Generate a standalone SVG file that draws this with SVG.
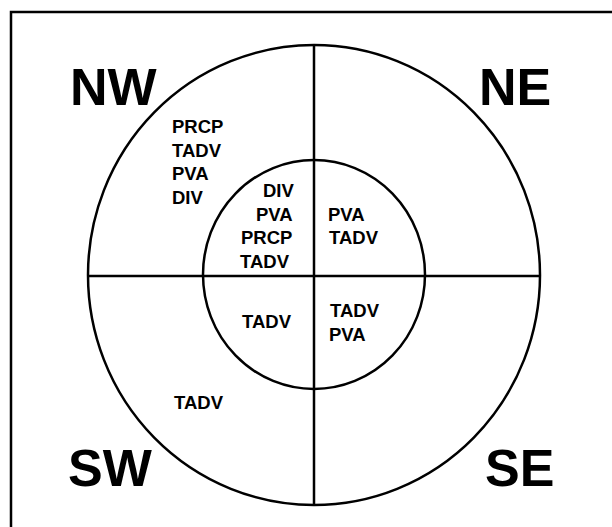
<svg xmlns="http://www.w3.org/2000/svg" width="612" height="527" viewBox="0 0 612 527">
<style>
.ln{fill:none;stroke:#000;stroke-width:2.5}
.big{font-family:"Liberation Sans",Arial,sans-serif;font-weight:bold;font-size:52px;fill:#000}
.sm{font-family:"Liberation Sans",Arial,sans-serif;font-weight:bold;font-size:18.5px;fill:#000}
</style>
<rect width="612" height="527" fill="#fff"/>
<path class="ln" d="M11,527 V12 H612" stroke-width="3"/>
<g id="connectors">
<ellipse class="ln" cx="314" cy="275" rx="226" ry="230"/>
<ellipse class="ln" cx="314" cy="274.5" rx="111" ry="114.5"/>
<line class="ln" x1="314" y1="45" x2="314" y2="505" stroke-width="2"/>
<line class="ln" x1="88" y1="276" x2="540" y2="276" stroke-width="2"/>
</g>
<g id="label-NW"><text class="big" x="70" y="105">NW</text></g>
<g id="label-NE"><text class="big" x="479" y="105">NE</text></g>
<g id="label-SW"><text class="big" x="68" y="486">SW</text></g>
<g id="label-SE"><text class="big" x="485" y="486">SE</text></g>
<g id="outer-NW">
<text class="sm" x="172" y="133">PRCP</text>
<text class="sm" x="172" y="157">TADV</text>
<text class="sm" x="172" y="180">PVA</text>
<text class="sm" x="172" y="204">DIV</text>
</g>
<g id="inner-NW">
<text class="sm" x="263" y="197">DIV</text>
<text class="sm" x="256" y="221">PVA</text>
<text class="sm" x="241" y="244">PRCP</text>
<text class="sm" x="240" y="268">TADV</text>
</g>
<g id="inner-NE">
<text class="sm" x="328" y="221">PVA</text>
<text class="sm" x="329" y="244">TADV</text>
</g>
<g id="inner-SW"><text class="sm" x="242" y="328">TADV</text></g>
<g id="inner-SE">
<text class="sm" x="330" y="317">TADV</text>
<text class="sm" x="329" y="341">PVA</text>
</g>
<g id="outer-SW"><text class="sm" x="174" y="409">TADV</text></g>
</svg>
